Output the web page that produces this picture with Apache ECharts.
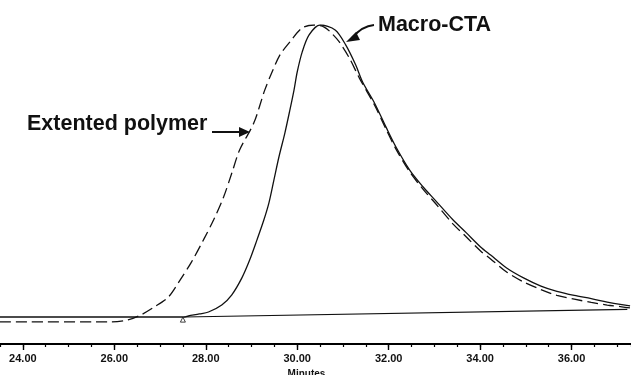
<!DOCTYPE html>
<html>
<head>
<meta charset="utf-8">
<script src="https://cdn.jsdelivr.net/npm/echarts@6/dist/echarts.min.js"></script>
<style>
  html, body { margin: 0; padding: 0; background: #fff; }
  #main { width: 631px; height: 375px; }
</style>
</head>
<body>
<div id="main"></div>
<script>
// elution time (min) and detector response
var macroTime = [23.5, 25.7, 27.53, 27.62, 27.86, 28.06, 28.35, 28.57, 28.79, 28.96, 29.12, 29.27,
    29.38, 29.49, 29.60, 29.73, 29.84, 29.93, 30.00, 30.11, 30.26, 30.50, 30.83, 31.06, 31.28, 31.43,
    31.69, 31.94, 32.16, 32.46, 32.75, 33.04, 33.41, 33.70, 34.01, 34.23, 34.58, 34.95, 35.33,
    35.68, 36.06, 36.43, 36.78, 37.10, 37.28];
var macroSignal = [0, 0, 0, 0.34, 1.03, 1.71, 4.11, 7.6, 13.4, 19.5, 26.4, 33.2,
    39.0, 46.9, 54.8, 63.0, 70.9, 77.7, 83.9, 90.8, 96.6, 100, 98.3, 93.2, 86.3, 80.5,
    73.3, 65.1, 58.2, 50.3, 44.6, 39.6, 33.2, 28.8, 24.0, 21.2, 16.8, 13.4, 10.6,
    8.8, 7.4, 6.3, 5.1, 4.2, 3.8];

var extTime = [23.5, 25.92, 26.30, 26.58, 26.87, 27.18, 27.42, 27.69, 27.95, 28.17, 28.39, 28.57,
    28.74, 29.05, 29.29, 29.45, 29.62, 29.84, 30.11, 30.37, 30.59, 30.77, 30.92,
    31.14, 31.36, 31.69, 31.94, 32.16, 32.46, 32.75, 33.04, 33.41, 33.70, 34.01, 34.23, 34.58,
    34.95, 35.33, 35.68, 36.06, 36.43, 36.78, 37.10, 37.28];
var extSignal = [-1.7, -1.7, -1.0, 0.7, 3.4, 6.8, 12.2, 18.9, 26.4, 33.2, 41.1, 49.3,
    57.2, 66.4, 77.7, 83.9, 89.7, 94.2, 99.0, 100, 99.3, 96.9, 94.2,
    88.7, 81.8, 72.6, 64.4, 57.5, 49.7, 43.8, 38.6, 31.8, 27.4, 22.6, 19.9, 15.4,
    12.0, 9.4, 7.4, 6.1, 5.0, 4.1, 3.5, 3.1];

// integration baseline
var baseTime = [27.53, 37.22];
var baseSignal = [0, 2.6];

var tickLabels = [24, 26, 28, 30, 32, 34, 36];

function pairs(xs, ys) {
    return xs.map(function (x, i) { return [x, ys[i]]; });
}

var chart = echarts.init(document.getElementById('main'));
chart.setOption({
    animation: false,
    backgroundColor: '#fff',
    grid: {left: 0, right: 0, top: 25, bottom: 31, outerBoundsMode: 'none'},
    xAxis: [
        {
            // labelled major ticks
            type: 'value', position: 'bottom',
            min: 23.5, max: 37.3,
            name: 'Minutes',
            nameLocation: 'middle',
            nameGap: 23,
            nameTextStyle: {fontSize: 10, color: '#111', fontFamily: 'Liberation Sans',
                fontWeight: 'bold', padding: [0, 18, 0, 0]},
            axisLine: {onZero: false, lineStyle: {color: '#000', width: 1.8}},
            axisTick: {length: 6, customValues: tickLabels, lineStyle: {color: '#000', width: 1.4}},
            axisLabel: {
                customValues: tickLabels,
                fontSize: 11, fontWeight: 'bold', color: '#111',
                fontFamily: 'Liberation Sans', margin: 9,
                formatter: function (v) { return v.toFixed(2); }
            },
            splitLine: {show: false}
        },
        {
            // minor ticks every half minute
            type: 'value', position: 'bottom',
            min: 23.5, max: 37.3, interval: 0.5,
            axisLine: {show: false, onZero: false},
            axisTick: {length: 3, lineStyle: {color: '#000', width: 1.2}},
            axisLabel: {show: false},
            splitLine: {show: false}
        }
    ],
    yAxis: {type: 'value', min: -9.25, max: 100, show: false, splitLine: {show: false}},
    series: [
        {
            name: 'Macro-CTA', type: 'line', symbol: 'none', smooth: 0.3,
            lineStyle: {color: '#111', width: 1.3},
            data: pairs(macroTime, macroSignal)
        },
        {
            name: 'Extented polymer', type: 'line', symbol: 'none', smooth: 0.3,
            lineStyle: {color: '#111', width: 1.3, type: [11, 5]},
            data: pairs(extTime, extSignal)
        },
        {
            name: 'baseline', type: 'line', symbol: 'none',
            lineStyle: {color: '#111', width: 1.2},
            data: pairs(baseTime, baseSignal)
        },
        {
            name: 'start', type: 'scatter', symbol: 'triangle', symbolSize: 5,
            itemStyle: {color: '#fff', borderColor: '#111', borderWidth: 1},
            data: [[27.5, -0.9]]
        }
    ],
    graphic: [
        {type: 'text', left: 378, top: 14,
            style: {text: 'Macro-CTA', font: 'bold 21.5px "Liberation Sans"', fill: '#111'}},
        {type: 'bezierCurve', shape: {x1: 374, y1: 25, x2: 352, y2: 38, cpx1: 362, cpy1: 26},
            style: {stroke: '#111', lineWidth: 2, fill: null}},
        {type: 'polygon', shape: {points: [[346, 42], [356, 32], [360, 40]]}, style: {fill: '#111'}},
        {type: 'text', left: 27, top: 113,
            style: {text: 'Extented polymer', font: 'bold 21.5px "Liberation Sans"', fill: '#111'}},
        {type: 'line', shape: {x1: 212, y1: 132, x2: 242, y2: 132}, style: {stroke: '#111', lineWidth: 2}},
        {type: 'polygon', shape: {points: [[250, 132], [239, 127], [239, 137]]}, style: {fill: '#111'}}
    ]
});
</script>
</body>
</html>
